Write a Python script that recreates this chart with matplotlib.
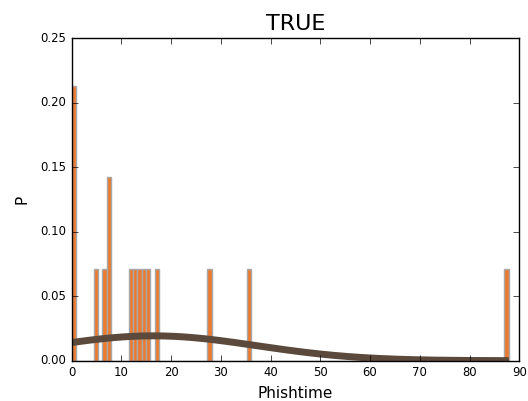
import numpy as np
import matplotlib
matplotlib.use("Agg")
import matplotlib.pyplot as plt

# Phish times (one per observation)
phishtime = [0.0, 0.0, 0.0, 4.8, 6.5, 7.5, 7.5, 11.9, 12.8, 13.6, 14.5,
             15.4, 17.1, 27.7, 35.6, 87.9]
n_bins = 100
title = "TRUE"
x_label = "Phishtime"
y_label = "P"
x_ticks = [0, 10, 20, 30, 40, 50, 60, 70, 80, 90]
y_ticks = [0.00, 0.05, 0.10, 0.15, 0.20, 0.25]

plt.style.use("classic")
fig = plt.figure(figsize=(5.28, 4.01), dpi=100, facecolor="white")
ax = fig.add_axes([0.1358, 0.1005, 0.8477, 0.804])

data = np.asarray(phishtime)
ax.hist(data, bins=n_bins, density=True, color="#ec7b30",
        edgecolor="#a8a8a8", linewidth=1.0)

# Normal fit to the sample
mu, sigma = data.mean(), data.std()
xs = np.linspace(data.min(), data.max(), 300)
pdf = np.exp(-(xs - mu) ** 2 / (2 * sigma ** 2)) / (sigma * np.sqrt(2 * np.pi))
ax.plot(xs, pdf, color="#5b4a3c", linewidth=5, solid_capstyle="butt")

ax.set_xlim(0, 90)
ax.set_ylim(0, 0.25)
ax.set_xticks(x_ticks)
ax.set_yticks(y_ticks)
ax.tick_params(labelsize=8.4)
ax.set_xlabel(x_label, fontsize=11)
ax.set_ylabel(y_label, fontsize=11, labelpad=8)
ax.set_title(title, fontsize=16, pad=6)

fig.savefig("out.png", dpi=100, facecolor="white")
